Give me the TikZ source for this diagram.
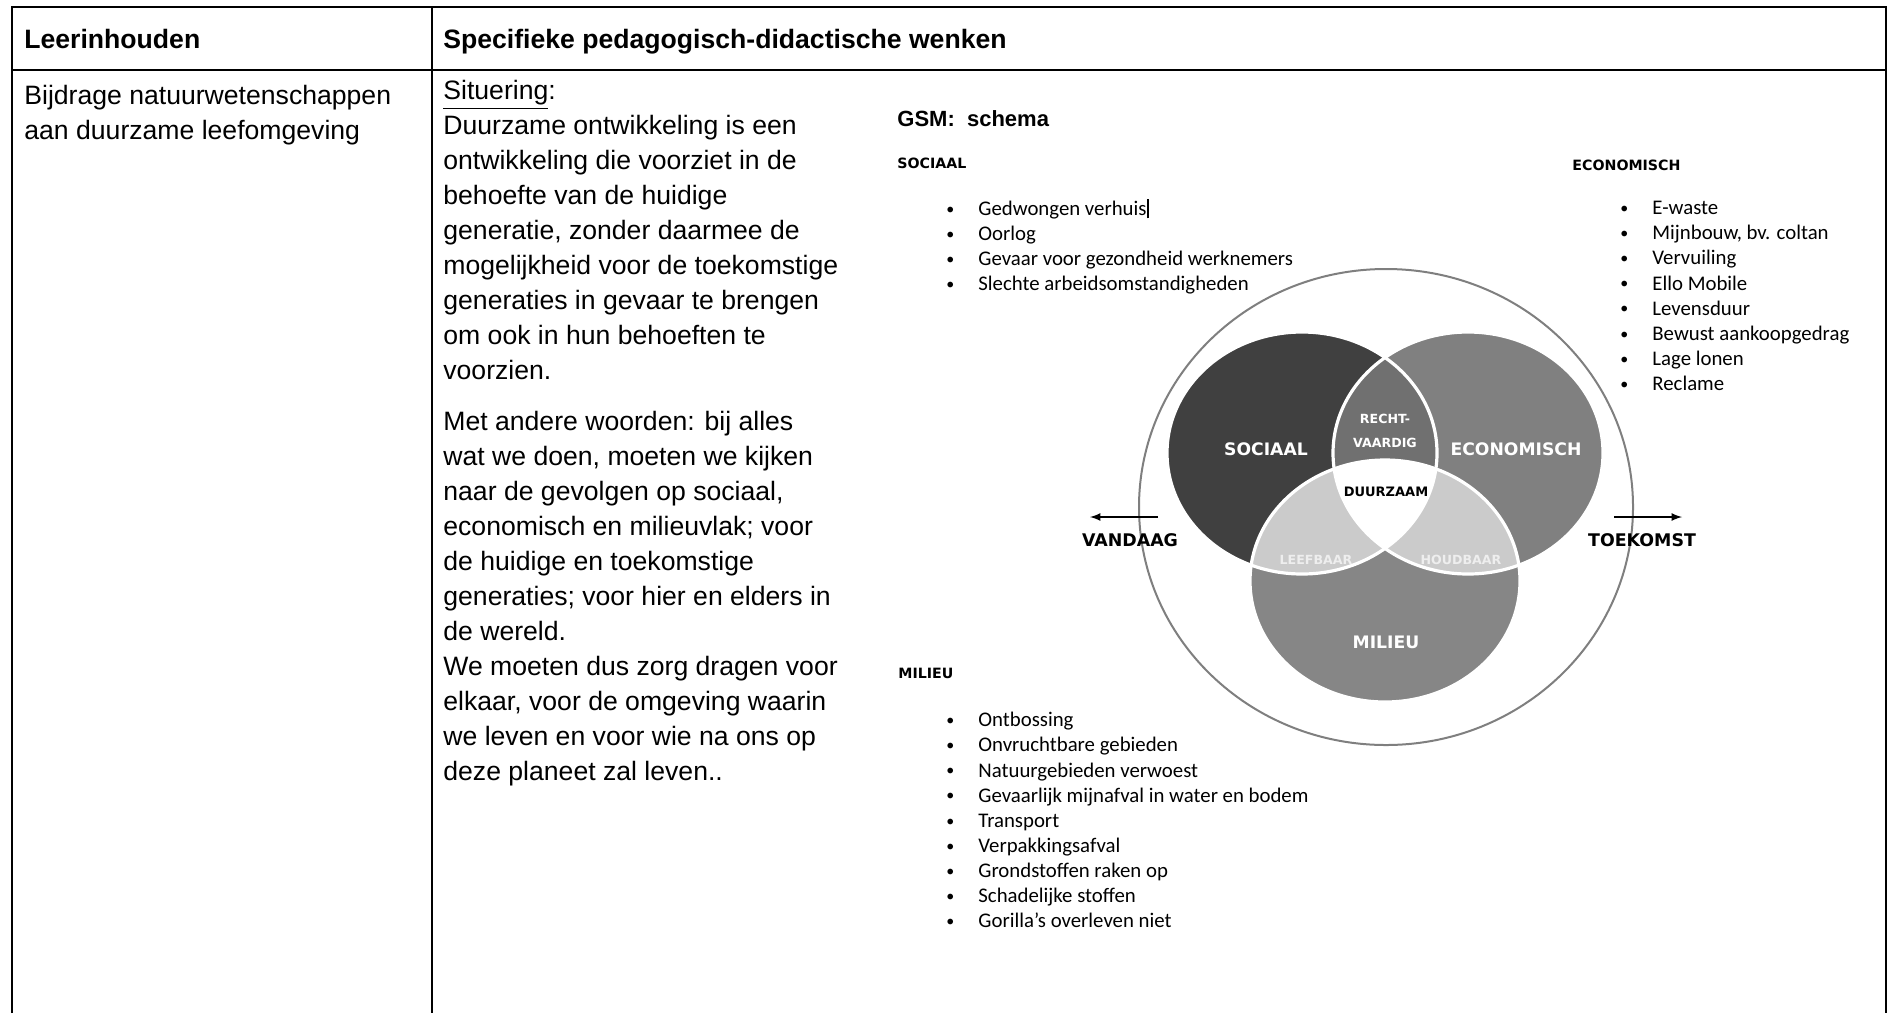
\documentclass[tikz,border=0pt]{standalone}
\usepackage{fontspec}
\setmainfont{Liberation Sans}
\newfontfamily\calibri{Carlito}
\newfontfamily\dejavu{DejaVu Sans}

\definecolor{soccol}{HTML}{404040}
\definecolor{ecocol}{HTML}{808080}
\definecolor{milcol}{HTML}{868686}
\definecolor{reccol}{HTML}{707070}
\definecolor{leecol}{HTML}{CBCBCB}
\definecolor{leetxt}{HTML}{EEEEEE}
\definecolor{ringcol}{HTML}{7F7F7F}

\newcommand\bul{\makebox[17pt][l]{\hspace{1pt}\raisebox{0.6pt}{\fontsize{8}{8}\selectfont\textbullet}}}

\tikzset{
  rule/.style={line width=1.2pt},
  head/.style={anchor=base west, inner sep=0pt, font=\fontsize{13.3}{17.5}\selectfont\bfseries},
  body/.style={anchor=north west, inner sep=0pt, align=left, font=\fontsize{13.3}{17.5}\selectfont},
  lsthead/.style={anchor=base west, inner sep=0pt, font=\dejavu\bfseries\fontsize{7.1}{8}\selectfont},
  lst/.style={anchor=north west, inner sep=0pt, align=left, font=\calibri\fontsize{10.4}{12.55}\selectfont},
  venn/.style={inner sep=0pt, text=white, font=\dejavu\bfseries\fontsize{8.6}{10}\selectfont},
  vsmall/.style={inner sep=0pt, text=white, font=\dejavu\bfseries\fontsize{6.3}{12}\selectfont},
  lbl/.style={inner sep=0pt, font=\dejavu\bfseries\fontsize{8.7}{10}\selectfont},
  ring/.style={draw=ringcol, line width=1pt},
  edge/.style={white, line width=1.6pt},
}

\begin{document}
\begin{tikzpicture}[x=0.5pt, y=-0.5pt]
\useasboundingbox (0,0) rectangle (1888,1013);

% table
\draw[rule] (12,1013) -- (12,7) -- (1886,7) -- (1886,1013);
\draw[rule] (12,70) -- (1886,70);
\draw[rule] (432,7) -- (432,1013);

\node[head] (h1) at (24,48) {Leerinhouden};
\node[head] (h2) at (443,48) {Specifieke pedagogisch-didactische wenken};

\node[body] (inh) at (24,85) {Bijdrage natuurwetenschappen\\aan duurzame leefomgeving};

\node[body] (sit) at (443,80) {\underline{Situering}:\\
  Duurzame ontwikkeling is een\\
  ontwikkeling die voorziet in de\\
  behoefte van de huidige\\
  generatie, zonder daarmee de\\
  mogelijkheid voor de toekomstige\\
  generaties in gevaar te brengen\\
  om ook in hun behoeften te\\
  voorzien.\\[8pt]
  Met andere woorden: bij alles\\
  wat we doen, moeten we kijken\\
  naar de gevolgen op sociaal,\\
  economisch en milieuvlak; voor\\
  de huidige en toekomstige\\
  generaties; voor hier en elders in\\
  de wereld.\\
  We moeten dus zorg dragen voor\\
  elkaar, voor de omgeving waarin\\
  we leven en voor wie na ons op\\
  deze planeet zal leven..};

% schema
\node[anchor=base west, inner sep=0pt, font=\bfseries\fontsize{11}{13}\selectfont] (gsm) at (897,126) {GSM:\ \ schema};

\node[lsthead] (hsoc) at (897,168) {SOCIAAL};
\node[lst] (lsoc) at (944,199) {\bul Gedwongen verhuis\rule[-1.5pt]{1pt}{9.5pt}\\
  \bul Oorlog\\
  \bul Gevaar voor gezondheid werknemers\\
  \bul Slechte arbeidsomstandigheden};

\node[lsthead] (heco) at (1572,170) {ECONOMISCH};
\node[lst] (leco) at (1618,201) {\bul E-waste\\
  \bul Mijnbouw, bv. coltan\\
  \bul Vervuiling\\
  \bul Ello Mobile\\
  \bul Levensduur\\
  \bul Bewust aankoopgedrag\\
  \bul Lage lonen\\
  \bul Reclame};

\node[lsthead] (hmil) at (898,678) {MILIEU};
\node[lst] (lmil) at (944,712) {\bul Ontbossing\\
  \bul Onvruchtbare gebieden\\
  \bul Natuurgebieden verwoest\\
  \bul Gevaarlijk mijnafval in water en bodem\\
  \bul Transport\\
  \bul Verpakkingsafval\\
  \bul Grondstoffen raken op\\
  \bul Schadelijke stoffen\\
  \bul Gorilla’s overleven niet};

% venn
\coordinate (allc) at (1386,507);
\coordinate (socc) at (1302,453);
\coordinate (ecoc) at (1468,453);
\coordinate (milc) at (1385,581);

\draw[ring] (allc) ellipse [x radius=247, y radius=238];

\fill[soccol] (socc) ellipse [x radius=135, y radius=121];
\fill[ecocol] (ecoc) ellipse [x radius=135, y radius=121];
\fill[milcol] (milc) ellipse [x radius=135, y radius=121];
\begin{scope}
  \clip (socc) ellipse [x radius=135, y radius=121];
  \fill[reccol] (ecoc) ellipse [x radius=135, y radius=121];
  \fill[leecol] (milc) ellipse [x radius=135, y radius=121];
  \clip (ecoc) ellipse [x radius=135, y radius=121];
  \fill[white] (milc) ellipse [x radius=135, y radius=121];
\end{scope}
\begin{scope}
  \clip (ecoc) ellipse [x radius=135, y radius=121];
  \fill[leecol] (milc) ellipse [x radius=135, y radius=121];
  \clip (socc) ellipse [x radius=135, y radius=121];
  \fill[white] (milc) ellipse [x radius=135, y radius=121];
\end{scope}
\draw[edge] (socc) ellipse [x radius=135, y radius=121];
\draw[edge] (ecoc) ellipse [x radius=135, y radius=121];
\draw[edge] (milc) ellipse [x radius=135, y radius=121];

\node[venn] (nsoc) at (1266,449) {SOCIAAL};
\node[venn] (neco) at (1516,449) {ECONOMISCH};
\node[venn] (nmil) at (1386,642) {MILIEU};
\node[vsmall, align=center] (nrec) at (1385,431) {RECHT-\\VAARDIG};
\node[vsmall, text=black, font=\dejavu\bfseries\fontsize{6.5}{8}\selectfont] (ndu) at (1386,492) {DUURZAAM};
\node[vsmall, text=leetxt] (nlee) at (1316,560) {LEEFBAAR};
\node[vsmall, text=leetxt] (nhou) at (1461,560) {HOUDBAAR};

\coordinate (vs) at (1158,517);
\coordinate (ve) at (1090,517);
\coordinate (ts) at (1614,517);
\coordinate (te) at (1682,517);
\draw[-latex, line width=0.8pt] (vs) -- (ve);
\draw[-latex, line width=0.8pt] (ts) -- (te);
\node[lbl] (nvan) at (1130,540) {VANDAAG};
\node[lbl] (ntoe) at (1642,540) {TOEKOMST};
\end{tikzpicture}
\end{document}
